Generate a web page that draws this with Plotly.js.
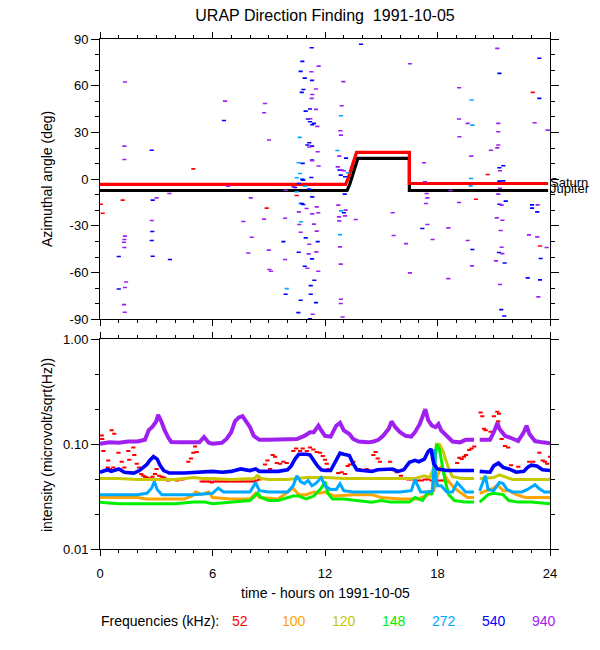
<!DOCTYPE html>
<html>
<head>
<meta charset="utf-8">
<script src="https://cdn.plot.ly/plotly-3.0.1.min.js"></script>
<style>html,body{margin:0;padding:0;background:#fff;}</style>
</head>
<body>
<div id="chart" style="width:600px;height:650px;"></div>
<script>
// ---------- DATA ----------
var freqLabels = ['52', '100', '120', '148', '272', '540', '940'];
var freqColors = ['#ff0000', '#ffa500', '#c8c800', '#00f000', '#00a8ff', '#0000ff', '#a020f0'];

// Top panel: planet direction lines (hours, degrees)
var saturnT = [0, 13.1, 13.25, 13.4, 13.55, 13.68, 16.5, 16.5, 23.9];
var saturnA = [-3.4, -3.4, 1, 7, 12, 17.2, 17.2, -2.8, -2.8];
var jupiterT = [0, 13.18, 13.33, 13.48, 13.62, 13.75, 16.5, 16.5, 23.9];
var jupiterA = [-7.3, -7.3, -3, 3, 9, 13.3, 13.3, -7.3, -7.3];

// Top panel: direction-finding points [hour, azimuth deg]
var df52 = [[0.04,-16.1],[0.14,-21.9],[1.21,-13.5],[4.98,6.6],[8.89,-18.6],[10.49,-10.5],
  [23.08,55.7],[20.68,3],[20.05,-12.9],[23.47,-42.9]];
var df272 = [[9.96,-70.3],[19.82,50.8],[19.86,34.7],[19.79,0.4],[19.77,-4.3],
  [12.85,40.7],[10.65,26.8],[12.66,18.4],[10.6,10.5],[10.67,3.6],[10.49,0.9],[10.79,0],
  [13.23,4.1],[10.92,-4.5],[10.49,-8.1],[10.7,-15.6],[10.72,-27.4],[12.8,-35.6],[12.85,-20.4]];
var df540 = [[2.76,18.6],[2.81,-13.5],[2.79,-33.6],[2.76,-39.4],[2.81,-49.5],[1.0,-49.7],[1.0,-70.5],
  [3.73,-51.6],[6.61,37.7],[9.78,-40.1],[9.9,-73.9],
  [13.92,86.6],[21.3,67.9],[23.43,77.6],[23.43,51.9],[21.51,8.6],[21.3,7.3],[21.3,-1.3],[21.51,-1.1],
  [21.64,-14.1],[21.3,-16.1],[23.04,-16.5],[23.04,-18.6],[23.32,-21],[17.19,-31.7],[19.86,-45.2],
  [21.28,-47.1],[21.58,-53.8],[23.5,-51],[22.81,-63.4],[23.47,-64.7],[21.4,-83.8],[21.56,-87.9],
  [11.29,84.4],[10.79,75.6],[10.7,69.2],[10.92,64.9],[11.31,63.4],[10.85,57.6],[10.76,55.7],
  [10.97,43.7],[11.2,45],[11.09,38.6],[11.2,36.9],[11.41,35.8],[11.32,34.9],[11.16,23.4],
  [11.06,21.9],[11.31,21.2],[13.12,13.5],[10.81,10.1],[11.31,12.2],[12.78,5.8],[12.84,2.6],
  [13.07,1.5],[11.27,1.1],[10.79,-0.2],[10.61,-2.8],[10.84,-0.6],[10.4,-5.4],[11.15,-6.4],
  [13.05,-9.6],[11.32,-11.4],[10.76,-15.6],[10.84,-16.3],[13.01,-21.6],[10.97,-37.7],[11.61,-40.1],
  [10.6,-46.9],[11.31,-51.2],[10.92,-55.9],[11.43,-64.9],[11.24,-68.4],[11.24,-73.9],[10.7,-77.8],
  [11.52,-79.3],[10.58,-85.7],[11.2,-89.6]];
var df940 = [[1.33,62.4],[1.30,21.2],[1.30,12.6],[1.33,-36.6],[1.30,-38.8],[1.28,-40.5],[1.30,-43.9],
  [1.39,-66],[1.33,-69.6],[1.28,-80.6],[1.32,-85.5],[3.02,-12],[3.70,-9.2],[2.76,-26.6],[6.67,50.1],
  [6.84,-4.5],[8.04,-12],[7.64,-27.2],[8.09,-37.3],[7.91,-47.4],[8.8,48.6],[8.75,42.6],[9.01,25.1],
  [8.75,-25.7],[9.0,-45.6],[9.03,-58],[9.12,-59.1],[9.87,-51.6],[9.87,-25.1],[9.9,-7.1],
  [16.53,74.1],[19.15,58.7],[19.15,38.6],[19.61,35.8],[19.17,27.2],[21.19,84],[21.24,35.8],
  [21.24,30.4],[23.18,36.2],[23.88,31.5],[20.85,18.6],[21.24,21.9],[21.19,20.1],[19.8,14.8],
  [17.28,10.5],[21.33,5.4],[17.33,-1.7],[18.7,-7.3],[17.42,-9.2],[17.46,-12],[21.33,-5.8],
  [21.24,-9.6],[19.15,-15],[17.39,-15.6],[21.42,-16.7],[23.34,-16.5],[15.61,-21.6],[13.64,-25.9],
  [21.16,-24.9],[21.46,-26.4],[17.46,-29.1],[18.58,-31.3],[15.66,-36.2],[17.74,-38.8],[19.61,-39.4],
  [21.37,-33],[22.88,-35.8],[23.32,-37.1],[23.82,-43.9],[21.42,-43.7],[21.46,-47.8],[16.32,-41.4],
  [21.12,-52.5],[19.84,-55.7],[16.53,-60.2],[18.58,-63.9],[21.33,-67.7],[23.38,-75.6],
  [11.66,72.6],[11.27,69],[12.98,62.6],[11.52,57.9],[11.32,54.4],[11.29,51.9],[12.89,47.1],
  [11.52,44.8],[11.22,38.8],[11.59,33.9],[12.82,31.1],[12.85,28.3],[11.16,20.6],[11.61,17.6],
  [11.32,11.8],[11.66,8.4],[12.76,14.8],[12.89,5.8],[12.68,7.9],[13.01,5.4],[10.31,-4.9],
  [11.56,-17.8],[11.64,-21.6],[11.32,-22.3],[11.02,-18.8],[10.61,-21],[10.63,-29.1],[11.41,-28.9],
  [10.7,-34.1],[11.56,-33.4],[12.8,-43.5],[11.16,-41.8],[11.54,-46.7],[11.13,-48],[13.07,-23.6],
  [12.76,-26.8],[12.75,-24.2],[13.1,-19.9],[12.84,-54.6],[11.64,-59.1],[11.06,-57.2],[12.85,-77.1],
  [12.84,-79.9],[11.34,-86.8],[12.94,-88.5],[12.71,-16.7]];

// Bottom panel: intensity (microvolt/sqrt(Hz)) vs hours
var int52 = [[0.09,0.121],[0.12,0.112],[0.18,0.086],[0.41,0.060],[0.44,0.070],[0.53,0.058],[0.62,0.136],
  [0.71,0.060],[0.76,0.126],[0.98,0.083],[1.07,0.058],[1.16,0.068],[1.3,0.060],[1.51,0.086],[1.56,0.071],
  [1.78,0.093],[1.83,0.079],[1.96,0.065],[2.08,0.060],[2.2,0.052],[2.31,0.050],[2.4,0.049],[2.49,0.048],
  [2.6,0.047],[2.67,0.047],[2.8,0.049],[2.93,0.052],[3.02,0.058],[3.15,0.050],[3.29,0.049],[3.4,0.048],
  [3.47,0.047],[3.55,0.046],[3.64,0.045],[3.75,0.046],[3.91,0.046],[4.0,0.046],[4.1,0.045],[4.27,0.046],
  [4.4,0.046],[4.71,0.068],[4.85,0.073],[4.98,0.083],[5.07,0.095],[5.16,0.084],[5.42,0.044],[5.55,0.044],
  [5.7,0.044],[5.85,0.044],[5.96,0.043],[6.1,0.044],[6.25,0.044],[6.4,0.044],[6.55,0.044],[6.7,0.044],
  [6.85,0.044],[7.0,0.044],[7.15,0.044],[7.3,0.044],[7.45,0.044],[7.6,0.044],[7.75,0.044],[7.9,0.044],
  [8.05,0.044],[8.2,0.044],[8.35,0.045],[8.5,0.046],[8.8,0.064],[8.93,0.070],[9.07,0.058],[9.21,0.079],
  [9.34,0.076],[9.43,0.066],[9.6,0.065],[9.78,0.068],[9.96,0.066],[10.31,0.086],[10.46,0.091],
  [10.67,0.086],[10.81,0.091],[11.03,0.086],[11.2,0.093],[11.38,0.089],[11.56,0.084],[11.74,0.083],
  [11.88,0.077],[12.0,0.071],[12.09,0.065],[12.18,0.058],[12.71,0.053],[12.89,0.054],[13.07,0.052],
  [13.21,0.062],[13.33,0.064],[13.51,0.068],[13.78,0.058],[13.99,0.057],[14.22,0.058],[14.58,0.079],
  [14.7,0.084],[14.81,0.073],[14.93,0.068],[15.16,0.057],[15.34,0.057],[15.47,0.068],[15.7,0.056],
  [15.82,0.054],[16.05,0.050],[16.27,0.047],[16.44,0.046],[16.62,0.046],[16.8,0.046],[16.98,0.045],
  [17.16,0.045],[17.33,0.046],[17.51,0.046],[17.69,0.045],[18.13,0.045],[18.31,0.045],[18.49,0.044],
  [19.05,0.066],[19.16,0.074],[19.29,0.072],[19.41,0.076],[19.52,0.079],[19.69,0.088],[19.82,0.091],
  [19.96,0.095],[20.3,0.20],[20.39,0.185],[20.48,0.14],[20.57,0.136],[20.83,0.131],[21.01,0.185],
  [21.19,0.204],[21.24,0.165],[21.28,0.195],[21.42,0.112],[21.6,0.096],[21.77,0.093],[21.92,0.063],
  [22.31,0.061],[22.89,0.068],[23.11,0.068],[23.43,0.083],[23.61,0.070],[23.73,0.068],[23.85,0.065],
  [24.0,0.076]];

var t100 = [0,1,2,2.5,3.5,4.5,4.9,5.1,5.4,5.8, 6.0,7,8,8.3,8.5,9.5,10.3,10.6,11,11.4,
  11.7,12,12.5,13.5,14.5,15,16,17,17.5,17.8, 18.0,18.2,18.4,18.6,18.9,19.2,19.6,19.95,20.1,20.25,
  21.0,21.2,21.5,21.8,22.2,22.7,23.5,24];
var v100 = [0.031,0.031,0.031,0.030,0.030,0.030,0.032,0.035,0.033,0.035, 0.031,0.030,0.030,0.034,0.031,0.030,0.038,0.033,0.033,0.035,
  0.034,0.035,0.032,0.033,0.033,0.031,0.030,0.030,0.033,0.036, 0.050,0.062,0.050,0.044,0.038,0.035,0.031,0.031,null,0.034,
  0.038,0.041,0.036,0.036,0.033,0.031,0.031,0.031];

var t120 = [0,1,2,3,4,5,5.5,6,7,8.2, 8.4,8.6,9,10,10.4,11,12,13,14,15,
  16,16.8,17.3,17.6,17.8,17.95,18.1,18.3,18.45,18.6, 18.8,19.3,19.95,20.1,20.25,21.0,21.3,21.6,22.0,23.0, 24.0];
var v120 = [0.047,0.047,0.046,0.046,0.046,0.048,0.047,0.047,0.046,0.047, 0.050,0.047,0.046,0.046,0.047,0.048,0.048,0.047,0.047,0.047,
  0.047,0.047,0.050,0.048,0.060,0.100,0.100,0.085,0.070,0.058, 0.049,0.047,0.047,null,0.047,0.048,0.051,0.049,0.046,0.046, 0.046];

var t148 = [0,1,2,3,4,5,5.6,6.0,7.0,8.0, 8.4,8.6,9.0,9.5,10.3,10.6,11.0,11.4,11.8,12.0,
  12.15,12.4,13,13.6,14.5,15,15.5,16.5,16.8,17.2, 17.5,17.7,17.85,17.95,18.1,18.25,18.4,18.6,18.9,19.5,
  19.95,20.1,20.25,20.7,21.0,21.5,21.8,22.3,23,24];
var v148 = [0.028,0.027,0.027,0.027,0.027,0.028,0.028,0.027,0.028,0.029, 0.034,0.031,0.029,0.029,0.032,0.032,0.030,0.032,0.038,0.044,
  0.034,0.030,0.030,0.029,0.028,0.029,0.028,0.028,0.031,0.029, 0.035,0.033,0.060,0.100,0.090,0.065,0.045,0.033,0.029,0.028,
  0.028,null,0.028,0.033,0.034,0.033,0.029,0.028,0.028,0.027];

var t272 = [0,1,2,2.5,2.75,2.9,3.05,3.3,4,5, 6.0,6.3,6.6,7,8.0,8.3,8.5,9,10,10.3,
  10.5,10.7,10.9,11.1,11.3,11.5,11.8,12.0,12.3,12.6, 12.8,13.0,13.5,14,15,16,16.6,16.8,16.95,17.1,
  17.5,17.75,17.85,17.9,18.0,18.2,18.5,18.8,19.05,19.3, 19.5,19.95,20.1,20.25,20.55,20.7,21.0,21.3,21.5,21.7,
  22.0,22.5,22.8,23.2,23.4,23.7,24];
var v272 = [0.033,0.033,0.033,0.034,0.038,0.044,0.037,0.033,0.033,0.033, 0.034,0.038,0.035,0.035,0.035,0.043,0.036,0.035,0.035,0.040,
  0.050,0.044,0.042,0.045,0.040,0.042,0.048,0.040,0.037,0.037, 0.042,0.036,0.035,0.035,0.035,0.035,0.036,0.046,0.040,0.035,
  0.035,0.036,0.090,0.050,0.040,0.040,0.035,0.035,0.043,0.038, 0.035,0.035,null,0.036,0.050,0.037,0.036,0.043,0.042,0.037,
  0.035,0.035,0.037,0.041,0.038,0.035,0.035];

var t540 = [0,0.4,0.6,1.0,1.3,1.8,2.1,2.3,2.5,2.65, 2.85,3.05,3.2,3.4,3.7,4.5,5.0,5.5,6.0,6.5,
  7.0,7.5,8.0,8.3,8.5,9.0,9.5,10.0,10.2,10.4, 10.6,11.0,11.2,11.4,11.6,11.8,12.0,12.3,12.6,12.8,
  13.0,13.3,13.5,13.7,14.0,14.5,14.8,15.2,15.6,15.9, 16.2,16.5,16.8,17.0,17.3,17.5,17.65,17.8,18.0,18.5,
  19.0,19.5,19.95,20.1,20.25,20.8,21.0,21.25,21.5,21.8, 22.2,22.6,22.8,23.0,23.3,23.6,24.0];
var v540 = [0.054,0.057,0.055,0.058,0.054,0.053,0.056,0.060,0.064,0.070, 0.076,0.072,0.063,0.056,0.053,0.053,0.054,0.055,0.055,0.054,
  0.055,0.058,0.056,0.058,0.055,0.055,0.055,0.057,0.062,0.072, 0.080,0.080,0.079,0.070,0.062,0.057,0.056,0.056,0.070,0.082,
  0.080,0.078,0.065,0.057,0.056,0.055,0.057,0.058,0.058,0.055, 0.057,0.067,0.070,0.068,0.072,0.085,0.090,0.065,0.058,0.056,
  0.056,0.057,0.056,null,0.055,0.054,0.062,0.066,0.060,0.058, 0.054,0.055,0.060,0.063,0.062,0.057,0.056];

var t940 = [0,0.5,1.0,1.5,2.0,2.4,2.6,2.8,3.0,3.1, 3.3,3.45,3.65,3.8,4.3,4.8,5.3,5.55,5.8,6.0,
  6.5,6.75,7.0,7.2,7.4,7.6,7.8,8.0,8.2,8.5, 9.0,9.5,10.0,10.5,10.9,11.2,11.4,11.65,11.8,12.0,
  12.3,12.6,12.8,13.0,13.3,13.5,13.8,14.3,14.6,14.85, 15.1,15.4,15.55,15.75,16.0,16.3,16.6,16.8,17.05,17.25,
  17.35,17.5,17.7,17.9,18.05,18.2,18.5,18.8,19.2,19.5, 19.95,20.1,20.25,20.8,21.0,21.2,21.3,21.6,21.9,22.3,
  22.6,22.75,22.9,23.2,23.6,24.0];
var v940 = [0.101,0.104,0.103,0.106,0.106,0.110,0.136,0.147,0.165,0.190, 0.160,0.135,0.115,0.105,0.104,0.104,0.104,0.117,0.103,0.101,
  0.103,0.112,0.130,0.165,0.180,0.185,0.165,0.145,0.120,0.110, 0.110,0.110,0.110,0.112,0.120,0.130,0.130,0.150,0.135,0.120,
  0.118,0.150,0.160,0.135,0.125,0.112,0.106,0.104,0.106,0.110, 0.120,0.140,0.165,0.145,0.130,0.120,0.118,0.130,0.155,0.190,
  0.215,0.170,0.150,0.145,0.155,0.135,0.118,0.106,0.104,0.110, 0.110,null,0.110,0.110,0.130,0.160,0.140,0.120,0.115,0.107,
  0.130,0.150,0.125,0.107,0.104,0.102];

// ---------- BUILD ----------
function col(arr, i) { return arr.map(function (p) { return p[i]; }); }
function dashMarker(c, s, w) { return {symbol: 'line-ew', size: s, color: c, line: {width: w, color: c}}; }

var traces = [];
// top panel lines
traces.push({x: jupiterT, y: jupiterA, xaxis: 'x', yaxis: 'y', mode: 'lines',
  line: {color: '#000000', width: 3.2}, hoverinfo: 'skip'});
traces.push({x: saturnT, y: saturnA, xaxis: 'x', yaxis: 'y', mode: 'lines',
  line: {color: '#ff0000', width: 3.2}, hoverinfo: 'skip'});
// top panel points
[[df52, 0], [df272, 4], [df540, 5], [df940, 6]].forEach(function (d) {
  traces.push({x: col(d[0], 0), y: col(d[0], 1), xaxis: 'x', yaxis: 'y', mode: 'markers',
    marker: dashMarker(freqColors[d[1]], 3, 1.6), hoverinfo: 'skip', cliponaxis: true});
});
// bottom panel
traces.push({x: col(int52, 0), y: col(int52, 1), xaxis: 'x2', yaxis: 'y2', mode: 'markers',
  marker: dashMarker(freqColors[0], 3, 2), hoverinfo: 'skip'});
var series = [[t100, v100, 1, 3], [t120, v120, 2, 3], [t148, v148, 3, 3], [t272, v272, 4, 3],
  [t540, v540, 5, 3.6], [t940, v940, 6, 4]];
series.forEach(function (s) {
  traces.push({x: s[0], y: s[1], xaxis: 'x2', yaxis: 'y2', mode: 'lines', connectgaps: false,
    line: {color: freqColors[s[2]], width: s[3]}, hoverinfo: 'skip'});
});

var FONT = 'Liberation Sans, Arial, Helvetica, sans-serif';
var PT = 39, PB = 549, PH = 510; // plot area in px
function py(p) { return (PB - p) / PH; }
function px(p) { return (p - 100) / 450; }

var xCommon = {range: [0, 24], tickmode: 'linear', tick0: 0, dtick: 6, ticks: 'outside', ticklen: 6,
  tickcolor: '#000', tickwidth: 1, showline: true, linecolor: '#000', linewidth: 1, mirror: 'ticks',
  showgrid: false, zeroline: false,
  minor: {tickmode: 'linear', tick0: 0, dtick: 1, ticks: 'outside', ticklen: 3, tickcolor: '#000', tickwidth: 1, showgrid: false}};

var annotations = [
  {text: 'Azimuthal angle (deg)', xref: 'paper', yref: 'paper', x: px(47), y: py(179), textangle: -90,
    showarrow: false, xanchor: 'center', yanchor: 'middle', font: {size: 14}},
  {text: 'intensity (microvolt/sqrt(Hz))', xref: 'paper', yref: 'paper', x: px(47), y: py(445), textangle: -90,
    showarrow: false, xanchor: 'center', yanchor: 'middle', font: {size: 14}},
  {text: 'time - hours on 1991-10-05', xref: 'paper', yref: 'paper', x: px(325), y: py(593),
    showarrow: false, xanchor: 'center', yanchor: 'middle', font: {size: 14}},
  {text: 'Frequencies (kHz):', xref: 'paper', yref: 'paper', x: px(99), y: py(621),
    showarrow: false, xanchor: 'left', yanchor: 'middle', font: {size: 14}},
  {text: 'Saturn', xref: 'paper', yref: 'paper', x: px(548), y: py(182), showarrow: false,
    xanchor: 'left', yanchor: 'middle', font: {size: 13}},
  {text: 'Jupiter', xref: 'paper', yref: 'paper', x: px(548), y: py(188.5), showarrow: false,
    xanchor: 'left', yanchor: 'middle', font: {size: 13}}
];
freqLabels.forEach(function (lab, i) {
  annotations.push({text: lab, xref: 'paper', yref: 'paper', x: px(230 + 50 * i), y: py(621),
    showarrow: false, xanchor: 'left', yanchor: 'middle', font: {size: 14, color: freqColors[i]}});
});

var layout = {
  width: 600, height: 650,
  margin: {l: 100, r: 50, t: PT, b: 650 - PB, pad: 0},
  paper_bgcolor: '#ffffff', plot_bgcolor: '#ffffff',
  showlegend: false,
  font: {family: FONT, size: 13, color: '#000'},
  title: {text: 'URAP Direction Finding\u00a0 1991-10-05', x: px(325), xref: 'paper', xanchor: 'center',
    y: 1 - 15 / 650, yref: 'container', yanchor: 'middle', font: {size: 16, family: FONT, color: '#000'}},
  xaxis: Object.assign({}, xCommon, {domain: [0, 1], anchor: 'y', showticklabels: false}),
  yaxis: {domain: [py(319.3), 1], anchor: 'x', range: [-90, 90], tickmode: 'array',
    tickvals: [-90, -60, -30, 0, 30, 60, 90], ticktext: ['-90', '-60', '-30', '0', '30', '60', '90'],
    ticks: 'outside', ticklen: 8, tickcolor: '#000', showline: true, linecolor: '#000', linewidth: 1,
    mirror: 'ticks', showgrid: false, zeroline: false, tickfont: {size: 13},
    minor: {tickmode: 'linear', tick0: 0, dtick: 10, ticks: 'outside', ticklen: 4, tickcolor: '#000', showgrid: false}},
  xaxis2: Object.assign({}, xCommon, {domain: [0, 1], anchor: 'y2', showticklabels: true,
    tickfont: {size: 13}, ticklabelstandoff: 6}),
  yaxis2: {domain: [0, py(339.3)], anchor: 'x2', type: 'log', range: [-2, 0], tickmode: 'array',
    tickvals: [0.01, 0.1, 1], ticktext: ['0.01', '0.10', '1.00'],
    ticks: 'outside', ticklen: 8, tickcolor: '#000', showline: true, linecolor: '#000', linewidth: 1,
    mirror: 'ticks', showgrid: false, zeroline: false, tickfont: {size: 13},
    minor: {tickmode: 'array', tickvals: [0.0215, 0.0464, 0.215, 0.464], ticks: 'outside', ticklen: 4,
      tickcolor: '#000', showgrid: false}},
  annotations: annotations
};

Plotly.newPlot('chart', traces, layout, {staticPlot: true, displayModeBar: false});
</script>
</body>
</html>
